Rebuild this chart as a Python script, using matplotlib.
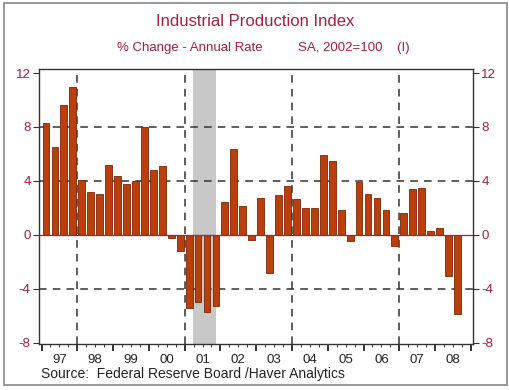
import numpy as np
import matplotlib
matplotlib.use("Agg")
import matplotlib.pyplot as plt
from matplotlib.patches import Rectangle

plt.rcParams['font.family'] = ['Liberation Sans', 'DejaVu Sans']
plt.rcParams['axes.unicode_minus'] = False

# Quarterly % change, annual rate, 1997Q1 - 2008Q3
years = list(range(1997, 2009))
changes = [
    8.3, 6.5, 9.6, 11.0,      # 1997
    4.1, 3.2, 3.0, 5.2,       # 1998
    4.4, 3.8, 4.0, 8.0,       # 1999
    4.8, 5.1, -0.25, -1.2,    # 2000
    -5.4, -5.0, -5.7, -5.3,   # 2001
    2.4, 6.4, 2.15, -0.4,     # 2002
    2.7, -2.85, 2.95, 3.65,   # 2003
    2.65, 2.0, 2.0, 5.95,     # 2004
    5.5, 1.85, -0.45, 3.9,    # 2005
    3.0, 2.7, 1.85, -0.8,     # 2006
    1.6, 3.4, 3.5, 0.3,       # 2007
    0.5, -3.05, -5.85,        # 2008
]
year_labels = ["97", "98", "99", "00", "01", "02", "03", "04", "05", "06", "07", "08"]
y_ticks = [-8, -4, 0, 4, 8, 12]
recession = (2001.22, 2001.87)
vgrid_years = [1998, 2001, 2004, 2007]

red = "#a3203f"
bar_col = "#bb3f0c"

# quarter centres as decimal years
x = 1997 + 0.125 + 0.25 * np.arange(len(changes))

fig = plt.figure(figsize=(5.1, 3.9), dpi=100)
ax = fig.add_axes([0.0765, 0.118, 0.851, 0.705])

ax.axvspan(recession[0], recession[1], color="#c8c8c8", zorder=0, lw=0)

for yv in [8, 4, -4]:
    ax.axhline(yv, color="#333333", lw=1.1, ls=(0, (5, 4)), zorder=1)
for xv in vgrid_years:
    ax.axvline(xv, color="#333333", lw=1.1, ls=(0, (5, 4)), zorder=1)

ax.bar(x, changes, width=0.19, color=bar_col, edgecolor="#7a2604",
       linewidth=0.6, zorder=2)
ax.axhline(0, color=red, lw=0.9, zorder=3)

ax.set_xlim(1996.93, 2009.06)
ax.set_ylim(-8.1, 12.3)

ax.set_yticks(y_ticks)
ax.tick_params(axis="y", which="both", left=True, right=True,
               labelleft=True, labelright=True, direction="out",
               length=4, width=0.8, colors="#333333",
               labelcolor=red, labelsize=9.5, pad=2)

# year boundaries as major ticks, quarters as minor, labels centred in year
ax.set_xticks(list(range(1997, 2010)))
ax.set_xticks(np.arange(1997, 2009.01, 0.25), minor=True)
ax.set_xticklabels([])
ax.tick_params(axis="x", which="major", direction="out", length=5, width=1.4,
               colors="#333333")
ax.tick_params(axis="x", which="minor", direction="out", length=2.5, width=0.7,
               colors="#333333")
for yr, lab in zip(years, year_labels):
    ax.text(yr + 0.5, -0.035, lab, transform=ax.get_xaxis_transform(),
            ha="center", va="top", fontsize=9.5, color="#222222")

for s in ax.spines.values():
    s.set_color("#333333")
    s.set_linewidth(1)

fig.text(0.5, 0.945, "Industrial Production Index", ha="center", va="center",
         fontsize=12, color=red)
fig.text(0.372, 0.878, "% Change - Annual Rate", ha="center", va="center",
         fontsize=9.5, color=red)
fig.text(0.585, 0.878, "SA, 2002=100    (I)", ha="left", va="center",
         fontsize=9.5, color=red)
fig.text(0.08, 0.04, "Source:  Federal Reserve Board /Haver Analytics",
         ha="left", va="center", fontsize=10, color="#222222")

fig.patches.append(Rectangle((0.007, 0.013), 0.987, 0.98, transform=fig.transFigure,
                             fill=False, edgecolor="#888888", lw=1.2))

fig.savefig("out.png", dpi=100)
